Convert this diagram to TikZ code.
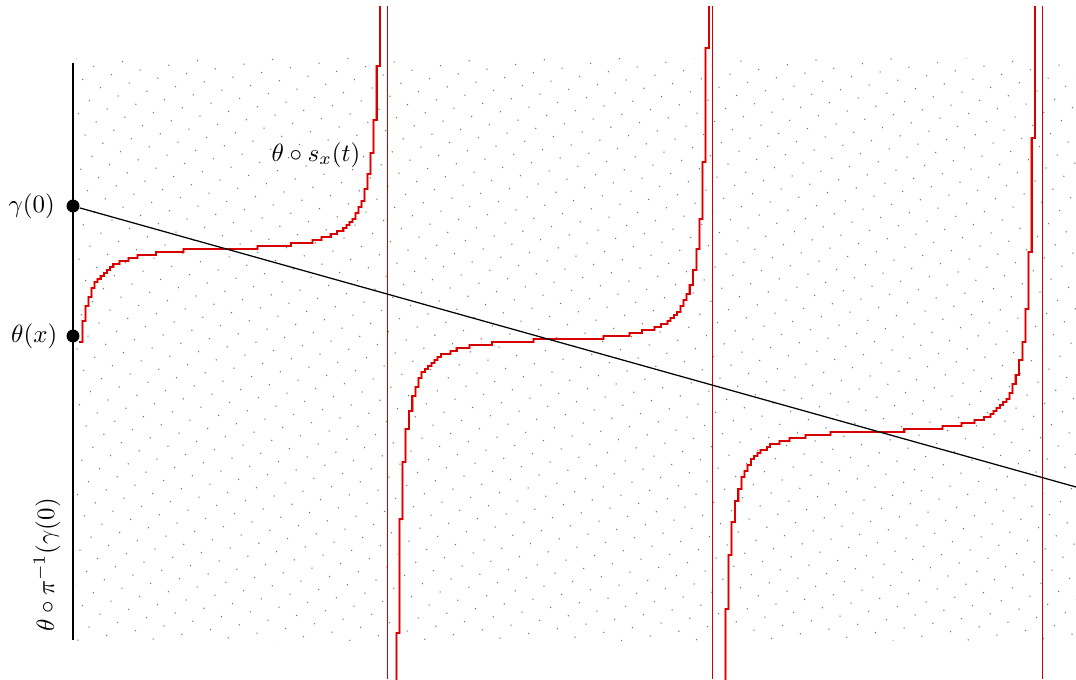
\documentclass[tikz,border=0pt]{standalone}
\usepackage{amsmath,amssymb}
\usepackage{tikz}
\usetikzlibrary{positioning}

\begin{document}
\begin{tikzpicture}[x=0.0141cm, y=-0.0141cm,
    axis/.style={draw=black, line width=1.2pt},
    pt/.style={circle, fill=black, inner sep=0pt, minimum size=5.2pt},
    curve/.style={draw=red!85!black, line width=0.55pt,
        preaction={draw=red!45, line width=1.1pt}},
    pole/.style={draw=red!80!black, line width=0.5pt},
    lattice/.style={fill=black!55}]

    \useasboundingbox (0,0) rectangle (1076,679);

    % dotted background
    \begin{scope}
        \clip (76,58) rectangle (1076,640);
        \foreach \i in {-26,...,32} {
            \foreach \j in {0,...,61} {
                \fill[lattice] ({76-11*\i+17.7*\j}, {58+13*\i+8.3*\j}) circle (0.3pt);
            }
        }
    \end{scope}

    % axis and marked points
    \coordinate (axtop) at (73,63);
    \coordinate (axbot) at (73,640);
    \draw[axis] (axtop) -- (axbot);
    \node[pt, label={[label distance=1pt]left:$\gamma(0)$}] (gamma0) at (73,206) {};
    \node[pt, label={[label distance=0pt]left:$\theta(x)$}] (thetax) at (73,336) {};

    % red staircase branches and poles
    \begin{scope}
        \clip (0,6) rectangle (1076,679);
        \foreach \k/\lo in {0/-145.6, 1/-158, 2/-158} {
            \pgfmathsetmacro\cx{225+326*\k}
            \pgfmathsetmacro\cy{206+0.2802*(\cx-73)}
            \draw[curve] plot[const plot, domain=\lo:158, samples=100]
                ({\cx+\x}, {3*round((\cy-6.5*tan(\x*90/163)*sqrt(abs(tan(\x*90/163))))/3)});
        }
        \coordinate (poleA) at (387.5,6);
        \coordinate (poleB) at (712.5,6);
        \coordinate (poleC) at (1042.5,6);
        \draw[pole] (poleA) -- (387.5,679);
        \draw[pole] (poleB) -- (712.5,679);
        \draw[pole] (poleC) -- (1042.5,679);
    \end{scope}

    % the straight line
    \coordinate (lineend) at (1076,487);
    \draw[line width=0.5pt] (gamma0) -- (lineend);

    \node (curvelabel) at (316,155) {$\theta\circ s_x(t)$};
    \node[rotate=90] (pilabel) at (47,565) {$\theta\circ\pi^{-1}(\gamma(0)$};
\end{tikzpicture}
\end{document}
